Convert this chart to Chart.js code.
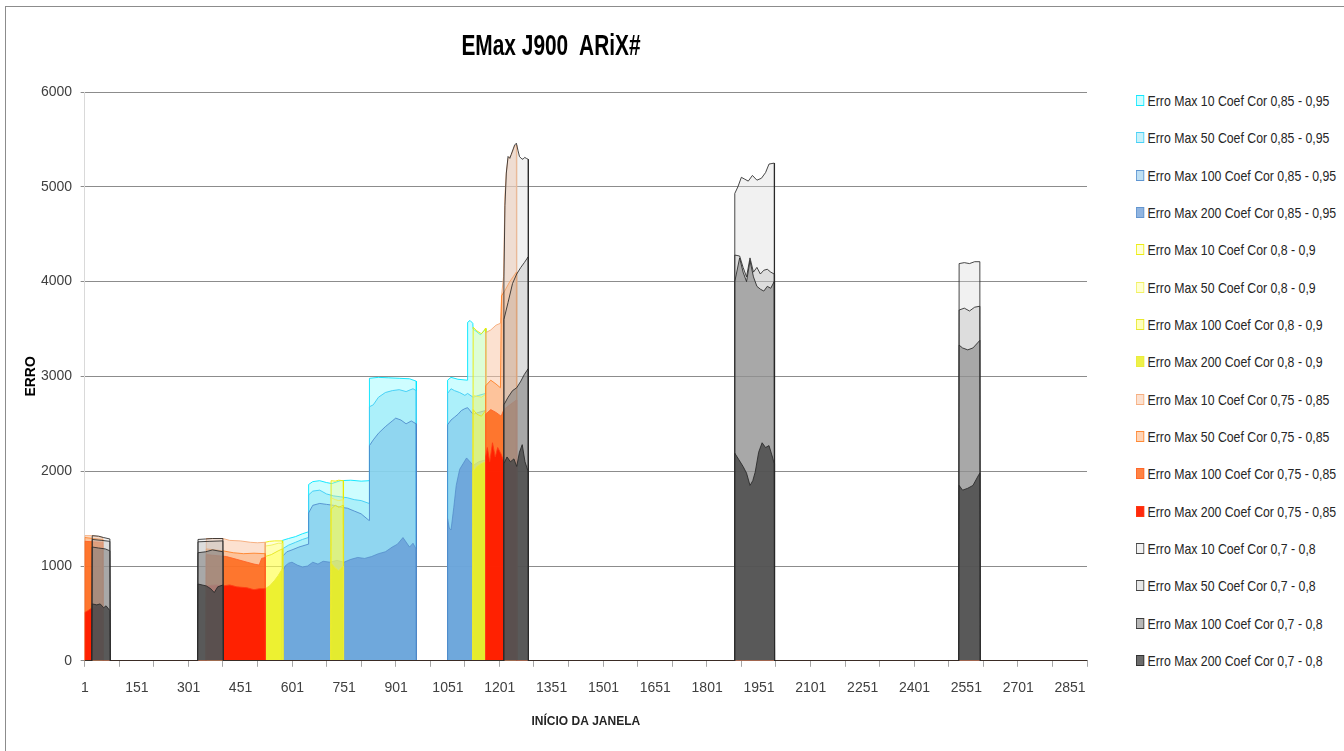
<!DOCTYPE html>
<html lang="pt-BR">
<head>
<meta charset="utf-8">
<title>EMax J900 ARiX#</title>
<script src="https://cdn.jsdelivr.net/npm/chart.js@4.4.1/dist/chart.umd.min.js"></script>
<style>
    body { margin: 0; background: #fff; }
    #quadro {
        position: relative; width: 1344px; height: 751px; overflow: hidden; background: #fff;
        font-family: 'Liberation Sans', Arial, sans-serif;
    }
    #moldura { position: absolute; left: 5px; top: 6px; width: 1400px; height: 800px; border: 1px solid #8c8c8c; }
    #grafico { position: absolute; left: 0; top: 0; }
    #titulo {
        position: absolute; left: 351px; top: 28px; width: 400px; text-align: center;
        font-size: 29px; font-weight: bold; line-height: 34px; white-space: pre; color: #000;
        transform: scaleX(0.72);
    }
    #legenda { position: absolute; left: 1136px; top: 82px; margin: 0; padding: 0; list-style: none; }
    #legenda li {
        height: 37.33px; display: flex; align-items: center; font-size: 15px; color: #262626; white-space: nowrap;
        transform: scaleX(0.82); transform-origin: left center;
    }
    #legenda .caixa { width: 8px; height: 9px; border: 1px solid; margin-right: 4px; }
</style>
</head>
<body>
<div id="quadro">
    <div id="moldura"></div>
    <canvas id="grafico" width="1100" height="751"></canvas>
    <div id="titulo"></div>
    <ul id="legenda"></ul>
</div>
<script>
const TITULO = 'EMax J900  ARiX#';
const FONTE = "'Liberation Sans', Arial, sans-serif";

// rótulos do eixo X (início da janela)
const rotulosX = [1, 151, 301, 451, 601, 751, 901, 1051, 1201, 1351, 1501, 1651, 1801, 1951, 2101, 2251, 2401, 2551, 2701, 2851];
const ultimaJanela = 2900;

const nomesSeries = [
    'Erro Max 10 Coef Cor 0,85 - 0,95',
    'Erro Max 50 Coef Cor 0,85 - 0,95',
    'Erro Max 100 Coef Cor 0,85 - 0,95',
    'Erro Max 200 Coef Cor 0,85 - 0,95',
    'Erro Max 10 Coef Cor 0,8 - 0,9',
    'Erro Max 50 Coef Cor 0,8 - 0,9',
    'Erro Max 100 Coef Cor 0,8 - 0,9',
    'Erro Max 200 Coef Cor 0,8 - 0,9',
    'Erro Max 10 Coef Cor 0,75 - 0,85',
    'Erro Max 50 Coef Cor 0,75 - 0,85',
    'Erro Max 100 Coef Cor 0,75 - 0,85',
    'Erro Max 200 Coef Cor 0,75 - 0,85',
    'Erro Max 10 Coef Cor 0,7 - 0,8',
    'Erro Max 50 Coef Cor 0,7 - 0,8',
    'Erro Max 100 Coef Cor 0,7 - 0,8',
    'Erro Max 200 Coef Cor 0,7 - 0,8'
];

// cada série: trechos de [janela, erro]; fora dos trechos o erro é 0
const azul10 = [
    [[572, 1270], [590, 1290], [610, 1310], [630, 1340], [647, 1360], [648, 1860], [660, 1890], [680, 1900], [700, 1880], [715, 1870], [740, 1900], [770, 1905], [800, 1895], [823, 1900],
     [824, 2980], [850, 2990], [880, 2985], [910, 2980], [940, 2975], [959, 2950]],
    [[1050, 2960], [1060, 2990], [1080, 2970], [1107, 2960], [1108, 3570], [1115, 3590], [1123, 3560], [1124, 3500], [1135, 3470], [1145, 3440], [1160, 3500]]
];
const azul50 = [
    [[572, 1180], [590, 1220], [610, 1250], [630, 1280], [647, 1300], [648, 1750], [660, 1790], [680, 1800], [700, 1760], [720, 1740], [740, 1730], [760, 1720], [780, 1700], [800, 1690], [823, 1660],
     [824, 2680], [835, 2700], [850, 2780], [870, 2830], [890, 2850], [910, 2860], [930, 2840], [950, 2870], [959, 2850]],
    [[1050, 2820], [1060, 2870], [1070, 2850], [1085, 2830], [1100, 2800], [1108, 2820], [1124, 2780], [1140, 2800], [1160, 2820]]
];
const azul100 = [
    [[572, 1100], [585, 1150], [600, 1170], [620, 1200], [647, 1230], [648, 1560], [660, 1640], [680, 1660], [700, 1650], [720, 1640], [740, 1620], [760, 1610], [780, 1580], [800, 1550], [823, 1480],
     [824, 2270], [835, 2330], [850, 2400], [870, 2470], [890, 2530], [900, 2560], [915, 2540], [930, 2500], [945, 2530], [959, 2500]],
    [[1050, 2490], [1060, 2540], [1070, 2570], [1080, 2600], [1090, 2640], [1100, 2660], [1108, 2670], [1124, 2600], [1140, 2620], [1160, 2640]]
];
const azul200 = [
    [[572, 930], [580, 1000], [590, 1030], [600, 1040], [615, 1010], [630, 990], [645, 1000], [660, 1040], [675, 1020], [690, 1050], [710, 1040], [730, 1060], [750, 1040], [770, 1070],
     [790, 1090], [810, 1080], [830, 1100], [850, 1130], [870, 1150], [890, 1200], [905, 1230], [921, 1300], [940, 1200], [950, 1240], [959, 1180]],
    [[1050, 1500], [1055, 1400], [1060, 1380], [1068, 1620], [1075, 1850], [1085, 2020], [1095, 2080], [1105, 2140], [1115, 2100], [1124, 2060], [1140, 2100], [1160, 2120]]
];
const amarelo10 = [
    [[522, 1250], [535, 1260], [550, 1265], [572, 1265]],
    [[713, 1900], [725, 1895], [735, 1905], [748, 1900]],
    [[1124, 3520], [1135, 3480], [1148, 3450], [1155, 3480], [1160, 3510]]
];
const amarelo50 = [
    [[522, 1210], [540, 1220], [560, 1240], [572, 1240]],
    [[713, 1720], [725, 1700], [735, 1690], [748, 1700]],
    [[1124, 2800], [1135, 2790], [1148, 2780], [1160, 2810]]
];
const amarelo100 = [
    [[522, 1100], [540, 1120], [560, 1160], [572, 1180]],
    [[713, 1600], [725, 1640], [735, 1620], [748, 1640]],
    [[1124, 2650], [1135, 2600], [1148, 2580], [1160, 2640]]
];
const amarelo200 = [
    [[522, 760], [535, 790], [550, 850], [560, 900], [572, 970]],
    [[713, 1030], [725, 980], [735, 950], [748, 1000]],
    [[1124, 2000], [1135, 2050], [1148, 2080], [1160, 2100]]
];
const vermelho10 = [
    [[1, 1320], [20, 1320], [40, 1310], [53, 1300]],
    [[352, 1290], [380, 1290], [400, 1290], [420, 1270], [450, 1265], [480, 1250], [500, 1245], [522, 1250]],
    [[1160, 3460], [1175, 3490], [1190, 3540], [1203, 3560], [1207, 3880], [1212, 4050], [1216, 4900], [1220, 5150], [1225, 5300], [1234, 5330], [1244, 5430], [1249, 5440]]
];
const vermelho50 = [
    [[1, 1300], [53, 1280]],
    [[352, 1180], [400, 1160], [430, 1140], [460, 1130], [490, 1135], [522, 1130]],
    [[1160, 2900], [1175, 2960], [1190, 2920], [1203, 2880], [1206, 3850], [1215, 3900], [1230, 4000], [1249, 4100]]
];
const vermelho100 = [
    [[1, 1260], [53, 1250]],
    [[352, 1120], [380, 1110], [410, 1100], [440, 1070], [470, 1040], [490, 1020], [505, 1010], [512, 1080], [522, 1090]],
    [[1160, 2600], [1175, 2650], [1190, 2620], [1205, 2580], [1213, 2650], [1230, 2700], [1249, 2750]]
];
const vermelho200 = [
    [[1, 510], [10, 530], [22, 560], [40, 580], [53, 560]],
    [[352, 790], [380, 800], [400, 790], [420, 800], [440, 780], [470, 770], [490, 750], [505, 760], [522, 760]],
    [[1160, 2150], [1165, 2250], [1172, 2100], [1180, 2300], [1188, 2150], [1195, 2250], [1205, 2180], [1213, 2100], [1249, 2050]]
];
const cinza10 = [
    [[22, 1320], [40, 1315], [55, 1300], [73, 1285]],
    [[328, 1280], [350, 1285], [370, 1290], [400, 1290]],
    [[1213, 4000], [1216, 4800], [1220, 5145], [1225, 5320], [1230, 5300], [1234, 5340], [1240, 5400], [1244, 5440], [1249, 5460], [1254, 5380],
     [1258, 5320], [1263, 5300], [1268, 5290], [1273, 5310], [1278, 5300], [1283, 5290]],
    [[1881, 4930], [1890, 5000], [1900, 5100], [1910, 5080], [1920, 5060], [1932, 5120], [1945, 5070], [1958, 5090], [1970, 5150], [1980, 5240], [1995, 5250]],
    [[2530, 4190], [2545, 4200], [2560, 4190], [2575, 4210], [2590, 4210]]
];
const cinza50 = [
    [[22, 1280], [50, 1270], [73, 1260]],
    [[328, 1255], [360, 1260], [400, 1265]],
    [[1213, 3600], [1225, 3780], [1238, 3980], [1250, 4080], [1262, 4150], [1272, 4200], [1283, 4260]],
    [[1881, 4280], [1895, 4270], [1905, 4150], [1915, 4050], [1925, 4250], [1935, 4100], [1945, 4150], [1955, 4080], [1965, 4120], [1975, 4130], [1985, 4100], [1995, 4080]],
    [[2530, 3700], [2545, 3720], [2560, 3690], [2575, 3730], [2590, 3740]]
];
const cinza100 = [
    [[22, 1200], [40, 1190], [60, 1180], [73, 1160]],
    [[328, 1140], [350, 1150], [370, 1170], [400, 1150]],
    [[1213, 2700], [1225, 2780], [1238, 2850], [1250, 2880], [1262, 2950], [1272, 3020], [1283, 3080]],
    [[1881, 4000], [1895, 4250], [1905, 4100], [1915, 4000], [1925, 4220], [1935, 4050], [1945, 3950], [1955, 3920], [1965, 3900], [1975, 3950], [1985, 3930], [1995, 4000]],
    [[2530, 3330], [2540, 3300], [2555, 3280], [2570, 3300], [2590, 3380]]
];
const cinza200 = [
    [[22, 600], [35, 590], [45, 600], [55, 560], [62, 580], [73, 530]],
    [[328, 810], [340, 800], [352, 790], [365, 760], [375, 720], [385, 780], [400, 800]],
    [[1213, 2080], [1222, 2150], [1232, 2100], [1242, 2130], [1250, 2050], [1258, 2200], [1266, 2280], [1274, 2100], [1283, 2000]],
    [[1881, 2190], [1893, 2120], [1905, 2050], [1915, 1980], [1925, 1850], [1933, 1900], [1940, 1990], [1950, 2200], [1960, 2300], [1970, 2250], [1980, 2270], [1990, 2150], [1995, 2080]],
    [[2530, 1850], [2540, 1800], [2555, 1820], [2570, 1850], [2585, 1950], [2590, 1980]]
];

const series = [azul10, azul50, azul100, azul200, amarelo10, amarelo50, amarelo100, amarelo200,
                vermelho10, vermelho50, vermelho100, vermelho200, cinza10, cinza50, cinza100, cinza200];

// preenchimento semitransparente, como no Excel
const coresFundo = [
    'rgba(190,252,255,0.75)', 'rgba(130,225,245,0.45)', 'rgba(110,185,228,0.45)', 'rgba(97,148,211,0.7)',
    'rgba(255,255,120,0.3)', 'rgba(255,255,100,0.3)', 'rgba(255,255,60,0.35)', 'rgba(232,237,27,0.8)',
    'rgba(250,200,170,0.55)', 'rgba(255,160,90,0.45)', 'rgba(255,100,20,0.8)', 'rgba(255,30,0,0.95)',
    'rgba(215,215,215,0.35)', 'rgba(177,177,177,0.3)', 'rgba(124,124,124,0.55)', 'rgba(70,70,70,0.8)'
];
const coresLinha = [
    'rgba(0,230,255,0.9)', 'rgba(60,205,245,0.9)', 'rgba(70,130,200,0.8)', 'rgba(80,135,200,0.7)',
    'rgba(235,235,0,0.9)', 'rgba(240,240,90,0.9)', 'rgba(230,230,30,0.9)', 'rgba(235,235,60,0.9)',
    'rgba(245,170,120,0.9)', 'rgba(255,130,40,0.9)', 'rgba(255,100,40,0.9)', 'rgba(255,60,20,0.9)',
    'rgba(40,40,40,0.85)', 'rgba(40,40,40,0.85)', 'rgba(40,40,40,0.85)', 'rgba(40,40,40,0.85)'
];

/**
 * Converte os trechos de uma série em pontos {x, y}, com erro 0 fora dos trechos
 */
function montarPontos(trechos) {
    const pontos = [{ x: 0, y: 0 }];
    trechos.forEach(function(trecho) {
        pontos.push({ x: trecho[0][0] - 1, y: 0 });
        trecho.forEach(function(p) {
            pontos.push({ x: p[0], y: p[1] });
        });
        pontos.push({ x: trecho[trecho.length - 1][0] + 1, y: 0 });
    });
    pontos.push({ x: ultimaJanela, y: 0 });
    return pontos;
}

// marcas do eixo X a cada 100 janelas, rótulos a cada 150
const marcasX = [];
for (let v = 0; v <= ultimaJanela; v += 100) marcasX.push(v);
rotulosX.forEach(function(v) { if (!marcasX.includes(v)) marcasX.push(v); });
marcasX.sort(function(a, b) { return a - b; });

const datasets = series.map(function(trechos, i) {
    return {
        label: nomesSeries[i],
        data: montarPontos(trechos),
        backgroundColor: coresFundo[i],
        borderColor: coresLinha[i],
        borderWidth: 1,
        fill: 'origin',
        pointRadius: 0,
        tension: 0,
        // a primeira série fica atrás de todas
        order: series.length - i
    };
});

document.getElementById('titulo').textContent = TITULO;

const grafico = new Chart(document.getElementById('grafico'), {
    type: 'line',
    data: { datasets: datasets },
    options: {
        responsive: false,
        animation: false,
        layout: { padding: { top: 92, left: 24.5, right: 11, bottom: 0 } },
        plugins: {
            legend: { display: false },
            tooltip: { enabled: false }
        },
        scales: {
            x: {
                type: 'linear',
                min: 0,
                max: ultimaJanela,
                afterBuildTicks: function(escala) {
                    escala.ticks = marcasX.map(function(v) { return { value: v }; });
                },
                ticks: {
                    autoSkip: false,
                    maxRotation: 0,
                    padding: 13,
                    color: '#404040',
                    font: { family: FONTE, size: 14 },
                    callback: function(valor) {
                        return rotulosX.includes(valor) ? String(valor) : '';
                    }
                },
                grid: {
                    drawOnChartArea: false,
                    tickLength: 6,
                    tickColor: function(ctx) {
                        return ctx.tick && rotulosX.includes(ctx.tick.value) ? 'rgba(0,0,0,0)' : '#a6a6a6';
                    }
                },
                border: { color: '#8c8c8c' },
                title: {
                    display: true,
                    text: 'INÍCIO DA JANELA',
                    color: '#262626',
                    font: { family: FONTE, size: 12, weight: 'bold' },
                    padding: { top: 5, bottom: 22 }
                }
            },
            y: {
                min: 0,
                max: 6000,
                ticks: {
                    stepSize: 1000,
                    padding: 8.5,
                    color: '#404040',
                    font: { family: FONTE, size: 14 },
                    callback: function(valor) { return String(valor); }
                },
                grid: { color: '#8c8c8c', tickLength: 4, tickColor: '#8c8c8c' },
                border: { color: '#d9d9d9' },
                title: {
                    display: true,
                    text: 'ERRO',
                    color: '#000',
                    font: { family: FONTE, size: 14, weight: 'bold', lineHeight: 1 },
                    padding: { top: 0, bottom: -6 }
                }
            }
        }
    }
});

// legenda em HTML, na ordem das séries
const legenda = document.getElementById('legenda');
Chart.defaults.plugins.legend.labels.generateLabels(grafico)
    .sort(function(a, b) { return a.datasetIndex - b.datasetIndex; })
    .forEach(function(item) {
        const li = document.createElement('li');
        const caixa = document.createElement('span');
        caixa.className = 'caixa';
        caixa.style.background = item.fillStyle;
        caixa.style.borderColor = item.strokeStyle;
        li.appendChild(caixa);
        li.appendChild(document.createTextNode(item.text));
        legenda.appendChild(li);
    });
</script>
</body>
</html>
